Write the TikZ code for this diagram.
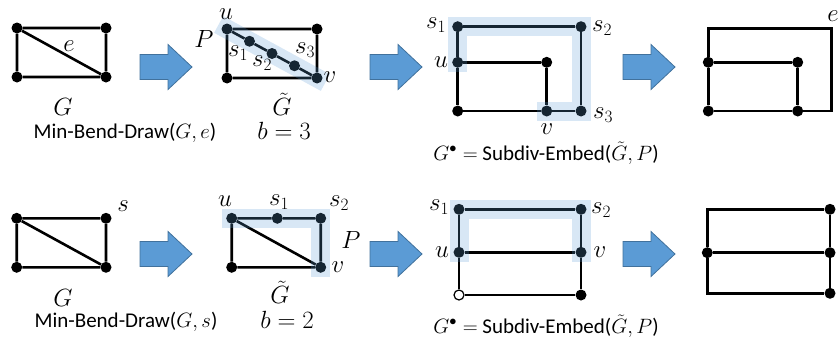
\documentclass[tikz,border=0pt]{standalone}
\usepackage{amsmath,amssymb}
\usepackage{fontspec}
\setmainfont{Carlito}
\usepackage{tikz}
\usetikzlibrary{calc}
\definecolor{arrfill}{HTML}{5B9BD5}
\definecolor{arrline}{HTML}{41719C}
\definecolor{hl}{HTML}{5B9BD5}
\tikzset{
  vtx/.style={circle,fill=black,inner sep=0pt,minimum size=11pt},
  wvtx/.style={circle,draw=black,fill=white,line width=1.2pt,inner sep=0pt,minimum size=10pt},
  gedge/.style={line width=2.6pt},
  band/.style={draw=hl,draw opacity=0.24,line width=19pt,line cap=rect,line join=miter},
  captxt/.style={font=\fontsize{21}{25}\selectfont},
}
\begin{document}
\begin{tikzpicture}[x=1pt,y=-1pt,inner sep=0.5pt,font=\fontsize{23}{27}\selectfont]
\useasboundingbox (0,0) rectangle (840,340);
\def\bigarr#1#2{\filldraw[fill=arrfill,draw=arrline,line width=0.8pt] (#1,#2-12.5) -- ++(28,0) -- ++(0,-10) -- ++(24,22.5) -- ++(-24,22.5) -- ++(0,-10) -- ++(-28,0) -- cycle;}
\foreach \ax/\ay in {140/67,370/67,623/67,140/254,370/254,623/254}{\bigarr{\ax}{\ay}}
\node[vtx] (ga) at (17,28) {};
\node[vtx] (gb) at (106,28) {};
\node[vtx] (gc) at (17,77) {};
\node[vtx] (gd) at (106,77) {};
\draw[gedge] (ga) -- (gb) -- (gd) -- (gc) -- (ga) -- (gd);
\node (le) at (69,46) {$e$};
\node (lg) at (63,107) {$G$};
\node[captxt] (mbd1) at (125,133) {Min-Bend-Draw($G,e$)};
\node[vtx] (tu) at (227,29) {};
\node[vtx] (tr) at (317,29) {};
\node[vtx] (tl) at (227,78) {};
\node[vtx] (tv) at (317,78) {};
\foreach \i/\f in {1/0.25,2/0.5,3/0.75} \node[vtx] (ts\i) at ($(tu)!\f!(tv)$) {};
\draw[gedge] (tu) -- (tr) -- (tv) -- (tl) -- (tu) -- (ts1) -- (ts2) -- (ts3) -- (tv);
\draw[band] (tu.center) -- (tv.center);
\node (ltu) at (226,14) {$u$};
\node (ltp) at (204,39) {$P$};
\node (lts1) at (238,53) {$s_1$};
\node (lts2) at (262,63) {$s_2$};
\node (lts3) at (305,50) {$s_3$};
\node (ltv) at (330,77) {$v$};
\node (ltg) at (282,104) {$\tilde{G}$};
\node (ltb) at (284,131) {$b=3$};
\node[vtx] (es1) at (457.7,26.7) {};
\node[vtx] (es2) at (581,26.7) {};
\node[vtx] (eu) at (457.7,62.3) {};
\node[vtx] (ew) at (546.7,62.3) {};
\node[vtx] (ebl) at (457.7,111) {};
\node[vtx] (ev) at (546.7,111) {};
\node[vtx] (es3) at (581,111) {};
\draw[gedge] (eu) -- (es1) -- (es2) -- (es3) -- (ev) -- (ebl) -- (eu) -- (ew) -- (ev);
\draw[band] (eu.center) -- (es1.center) -- (es2.center) -- (es3.center) -- (ev.center);
\node (les1) at (436,25) {$s_1$};
\node (les2) at (602,28) {$s_2$};
\node (leu) at (441,62) {$u$};
\node (les3) at (603,115) {$s_3$};
\node (lev) at (547,129) {$v$};
\node[captxt] (sde1) at (546,153) {$G^{\bullet}=$ Subdiv-Embed($\tilde{G},P$)};
\node[vtx] (fa) at (708.3,62.3) {};
\node[vtx] (fb) at (797.7,62.3) {};
\node[vtx] (fc) at (708.3,111) {};
\node[vtx] (fd) at (797.7,111) {};
\coordinate (fe1) at (708.3,28.3);
\coordinate (fe2) at (831.7,28.3);
\coordinate (fe3) at (831.7,111);
\draw[gedge] (fa) -- (fb) -- (fd) -- (fc) -- (fa);
\draw[gedge] (fa) -- (fe1) -- (fe2) -- (fe3) -- (fd);
\node (lfe) at (833,16) {$e$};
\node[vtx] (ha) at (16.7,218.3) {};
\node[vtx] (hb) at (106,218.3) {};
\node[vtx] (hc) at (16.7,267.3) {};
\node[vtx] (hd) at (106,267.3) {};
\draw[gedge] (ha) -- (hb) -- (hd) -- (hc) -- (ha) -- (hd);
\node (lhs) at (123,206) {$s$};
\node (lhg) at (63,298) {$G$};
\node[captxt] (mbd2) at (126,322) {Min-Bend-Draw($G,s$)};
\node[vtx] (ku) at (231.7,218.3) {};
\node[vtx] (ks1) at (277.3,218.3) {};
\node[vtx] (ks2) at (320.7,218.3) {};
\node[vtx] (kl) at (231.7,267.3) {};
\node[vtx] (kv) at (320.7,267.3) {};
\draw[gedge] (ku) -- (ks1) -- (ks2) -- (kv) -- (kl) -- (ku) -- (kv);
\draw[band] (ku.center) -- (ks2.center) -- (kv.center);
\node (lku) at (225,201) {$u$};
\node (lks1) at (279,202) {$s_1$};
\node (lks2) at (339,203) {$s_2$};
\node (lkp) at (351,240) {$P$};
\node (lkv) at (338,267) {$v$};
\node (lkg) at (280,292) {$\tilde{G}$};
\node (lkb) at (287,320) {$b=2$};
\node[vtx] (ms1) at (459,209.3) {};
\node[vtx] (ms2) at (581,209.3) {};
\node[vtx] (mu) at (459,252.3) {};
\node[vtx] (mv) at (581,252.3) {};
\node[wvtx] (mbl) at (459,295) {};
\node[vtx] (mbr) at (581,295) {};
\draw[gedge] (ms1) -- (ms2) -- (mv) -- (mbr) -- (mbl) -- (mu) -- (ms1) (mu) -- (mv);
\draw[band] (mu.center) -- (ms1.center) -- (ms2.center) -- (mv.center);
\node (lms1) at (439,207) {$s_1$};
\node (lms2) at (601,210) {$s_2$};
\node (lmu) at (442,252) {$u$};
\node (lmv) at (600,252) {$v$};
\node[captxt] (sde2) at (546,326) {$G^{\bullet}=$ Subdiv-Embed($\tilde{G},P$)};
\node[vtx] (nl) at (707.3,252.7) {};
\node[vtx] (nt) at (830,209.3) {};
\node[vtx] (nm) at (830,252.7) {};
\node[vtx] (nb) at (830,293.3) {};
\coordinate (nc1) at (707.3,209.3);
\coordinate (nc2) at (707.3,293.3);
\draw[gedge] (nl) -- (nm) (nt) -- (nm) -- (nb);
\draw[gedge] (nl) -- (nc1) -- (nt) (nl) -- (nc2) -- (nb);
\end{tikzpicture}
\end{document}
